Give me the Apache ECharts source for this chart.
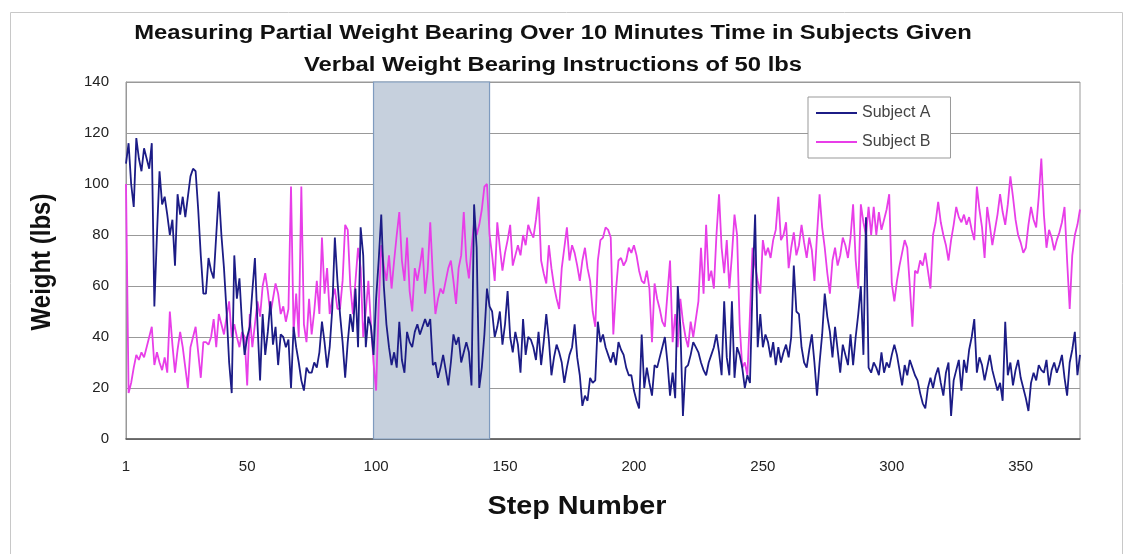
<!DOCTYPE html>
<html>
<head>
<meta charset="utf-8">
<script src="https://cdn.jsdelivr.net/npm/echarts@6/dist/echarts.min.js"></script>
<style>
html,body{margin:0;padding:0;background:#fff;}
#chart{width:1135px;height:554px;}
</style>
</head>
<body>
<div id="chart"></div>
<script>
const titleLines = ["Measuring Partial Weight Bearing Over 10 Minutes Time in Subjects Given", "Verbal Weight Bearing Instructions of 50 lbs"];
const xTitle = "Step Number";
const yTitle = "Weight (lbs)";
// tick labels and the step (category) each one sits under
const xTickLabels = ["1", "50", "100", "150", "200", "250", "300", "350"];
const xTickSteps = ["1", "48", "98", "148", "198", "248", "298", "348"];
const shadedRange = ["97", "142"];

const subjectA = [
108,116,100,91,118,110,105,114,110,106,
116,52,80,105,92,95,88,80,86,68,
96,88,95,87,95,103,106,105,90,72,
57,57,71,66,63,80,97,80,67,50,
30,18,72,55,63,45,33,40,44,58,
71,45,23,49,33,42,54,37,44,29,
41,40,36,39,20,44,36,30,23,19,
28,26,26,30,28,34,46,38,28,36,
51,79,62,49,38,24,38,49,42,59,
36,83,72,36,48,44,33,55,70,88,
60,45,36,29,34,28,46,31,26,42,
38,36,42,45,41,44,47,44,47,29,
30,24,28,33,27,21,30,41,37,40,
30,34,38,34,21,92,75,20,28,41,
59,52,50,40,44,50,37,45,58,40,
34,42,37,26,47,33,40,39,36,31,
42,29,38,49,39,25,32,37,34,30,
22,28,33,36,45,32,25,13,17,15,
24,22,23,46,38,41,36,33,30,34,
29,38,35,33,28,25,25,19,15,12,
41,20,28,22,17,29,28,32,36,40,
30,17,26,16,60,44,9,28,29,33,
38,36,34,30,27,25,30,33,36,41,
34,25,54,32,25,54,24,36,33,28,
20,25,22,60,88,36,49,36,41,38,
32,38,29,36,30,34,37,32,40,68,
50,49,36,30,28,35,41,30,17,30,
41,57,48,42,32,44,35,26,37,33,
29,41,29,40,49,60,33,87,28,26,
30,28,25,34,26,30,28,33,37,33,
27,21,29,25,31,28,25,23,18,14,
12,20,24,20,25,28,22,17,26,30,
9,23,27,31,19,31,26,35,40,47,
26,32,29,23,28,33,27,23,19,22,
15,46,25,30,21,27,31,24,20,16,
11,22,26,23,29,27,26,31,21,27,
30,26,29,33,24,17,30,35,42,25,33
];

const subjectB = [
100,18,22,28,33,31,34,32,36,40,
44,29,34,30,27,32,26,50,37,26,
35,42,36,28,20,36,40,44,34,24,
38,38,37,40,47,36,49,45,41,48,
54,40,45,40,36,42,40,21,49,36,
45,54,48,60,65,58,49,55,61,57,
49,52,46,51,99,42,57,40,99,45,
38,55,41,50,62,49,79,57,67,49,
55,59,51,51,62,84,82,60,49,62,
75,67,40,50,62,45,30,19,52,76,
68,62,72,59,70,80,89,70,62,79,
58,50,67,62,68,75,57,66,85,64,
49,55,59,57,62,67,70,62,53,67,
72,89,70,63,75,85,80,84,90,99,
100,80,72,62,85,75,66,73,78,84,
68,72,76,72,80,76,84,81,79,86,
95,70,65,61,76,67,60,55,51,67,
75,83,70,76,73,68,62,70,75,67,
62,50,44,70,78,79,83,82,79,41,
58,70,71,68,70,75,73,76,72,66,
62,61,66,59,38,61,55,51,46,44,
57,70,38,49,36,55,46,40,36,46,
40,47,54,75,57,84,62,66,59,80,
96,75,65,78,59,72,88,80,45,28,
30,25,49,75,68,62,57,78,72,75,
71,78,82,95,78,80,85,67,75,81,
72,76,84,77,71,79,74,62,80,96,
83,75,65,57,70,75,68,72,79,76,
71,79,92,70,59,92,85,80,91,80,
91,80,89,82,86,90,96,61,54,62,
68,73,78,75,60,44,66,65,70,68,
73,66,59,80,85,93,85,80,76,70,
78,84,91,87,85,88,84,87,82,78,
99,90,83,71,91,84,76,82,88,96,
89,84,92,103,95,86,80,77,73,75,
84,91,86,83,95,110,88,75,82,79,
74,78,81,85,91,70,51,72,80,84,90
];

const steps = subjectA.map((_, i) => String(i + 1));

const chart = echarts.init(document.getElementById('chart'));
const font = 'Liberation Sans, Arial, sans-serif';

chart.setOption({
  backgroundColor: '#fff',
  animation: false,
  graphic: [
    { type: 'rect', shape: { x: 10.5, y: 12.5, width: 1112, height: 560 }, style: { fill: 'none', stroke: '#c8c8c8', lineWidth: 1 }, z: 0 },
    { type: 'text', x: 553, y: 33, scaleX: 1.19, originX: 0, originY: 0,
      style: { text: titleLines[0], fontFamily: font, fontWeight: 'bold', fontSize: 20, fill: '#111', align: 'center', verticalAlign: 'middle' } },
    { type: 'text', x: 553, y: 65, scaleX: 1.19, originX: 0, originY: 0,
      style: { text: titleLines[1], fontFamily: font, fontWeight: 'bold', fontSize: 20, fill: '#111', align: 'center', verticalAlign: 'middle' } },
    { type: 'text', x: 577, y: 507, scaleX: 1.15,
      style: { text: xTitle, fontFamily: font, fontWeight: 'bold', fontSize: 25, fill: '#111', align: 'center', verticalAlign: 'middle' } },
    { type: 'text', x: 42, y: 262, rotation: Math.PI / 2, scaleY: 1.15,
      style: { text: yTitle, fontFamily: font, fontWeight: 'bold', fontSize: 24, fill: '#111', align: 'center', verticalAlign: 'middle' } }
  ],
  legend: {
    data: ['Subject A', 'Subject B'],
    orient: 'vertical',
    left: 808, top: 97,
    padding: [8, 20, 8, 8],
    itemGap: 13,
    itemWidth: 41, itemHeight: 2,
    icon: 'rect',
    backgroundColor: '#fff',
    borderColor: '#999', borderWidth: 1,
    textStyle: { fontFamily: font, fontSize: 16, color: '#444' }
  },
  grid: { left: 126, right: 55, top: 82, bottom: 115, show: true, borderColor: '#999', borderWidth: 1 },
  xAxis: {
    type: 'category',
    data: steps,
    boundaryGap: false,
    axisLine: { lineStyle: { color: '#555', width: 1.5 } },
    axisTick: { show: false },
    splitLine: { show: false },
    axisLabel: {
      interval: (idx, val) => xTickSteps.indexOf(val) >= 0,
      formatter: (val) => xTickLabels[xTickSteps.indexOf(val)],
      margin: 20,
      fontFamily: font, fontSize: 15, color: '#222'
    }
  },
  yAxis: {
    type: 'value',
    min: 0, max: 140, interval: 20,
    axisLine: { show: true, lineStyle: { color: '#999' } },
    axisTick: { show: false },
    splitLine: { lineStyle: { color: '#999', width: 1 } },
    axisLabel: { margin: 17, fontFamily: font, fontSize: 15, color: '#222' }
  },
  series: [
    {
      name: 'shaded', type: 'line', data: [], z: 1, silent: true,
      markArea: {
        silent: true,
        itemStyle: { color: '#c6d0dd', borderColor: '#7f9bbf', borderWidth: 1.2 },
        data: [[{ xAxis: shadedRange[0], yAxis: 0 }, { xAxis: shadedRange[1], yAxis: 140 }]]
      }
    },
    {
      name: 'Subject A', type: 'line', data: subjectA, showSymbol: false, symbol: 'none',
      lineStyle: { color: '#1c1c86', width: 1.8 }, itemStyle: { color: '#1c1c86' }, z: 4
    },
    {
      name: 'Subject B', type: 'line', data: subjectB, showSymbol: false, symbol: 'none',
      lineStyle: { color: '#e83ee8', width: 1.8 }, itemStyle: { color: '#e83ee8' }, z: 3
    }
  ]
});
</script>
</body>
</html>
